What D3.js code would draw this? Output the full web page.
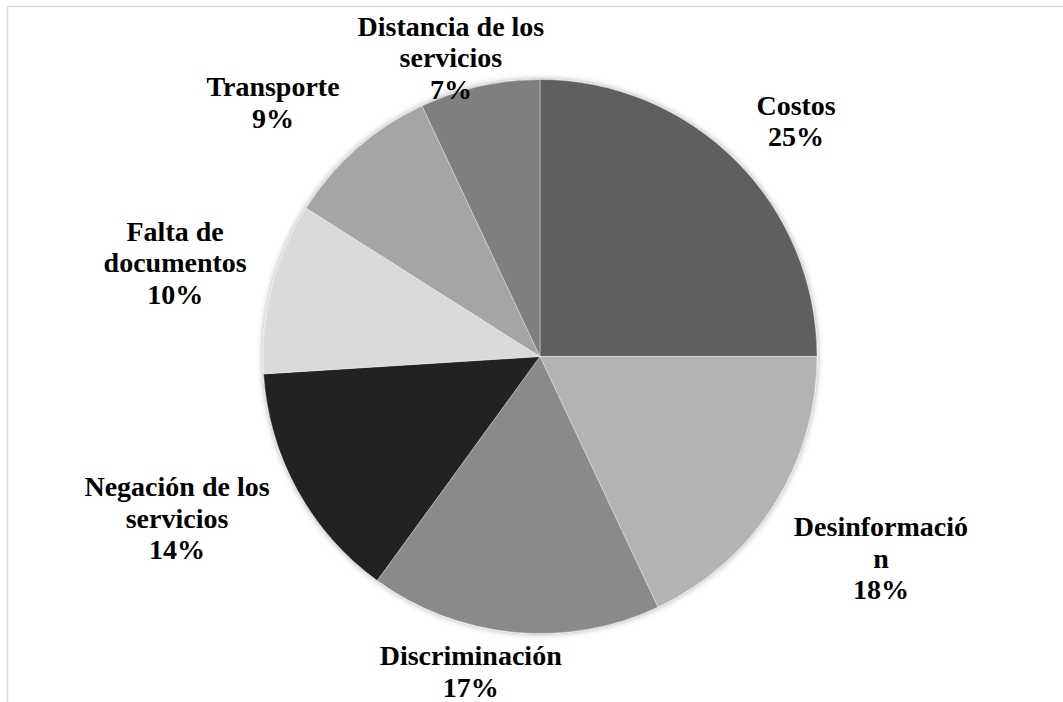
<!DOCTYPE html>
<html>
<head>
<meta charset="utf-8">
<script src="https://cdn.jsdelivr.net/npm/d3@7.9.0/dist/d3.min.js"></script>
<style>
  html, body { margin: 0; padding: 0; background: #fff; }
  svg { display: block; }
  .label { font-family: "Liberation Serif", serif; font-weight: bold; font-size: 28px; fill: #000; }
</style>
</head>
<body>
<div id="chart"></div>
<script>
// data
const categories = ["Costos", "Desinformación", "Discriminación", "Negación de los servicios",
  "Falta de documentos", "Transporte", "Distancia de los servicios"];
const values = [25, 18, 17, 14, 10, 9, 7];
// label text as wrapped in the original
const labelLines = ["Costos", "Desinformació\nn", "Discriminación", "Negación de los\nservicios",
  "Falta de\ndocumentos", "Transporte", "Distancia de los\nservicios"];

const width = 1063, height = 702;
const cx = 540, cy = 356.5, radius = 277;
const lineH = 31.5, capH = 19;

// label placement: angle shift (deg) from slice middle, distance as a factor of radius
const labelPlace = [[2.4, 1.256], [-1.8, 1.43], [7.0, 1.165], [4.75, 1.435],
  [0, 1.36], [-5.05, 1.33], [-4.0, 1.126]];

const color = d3.scaleOrdinal()
  .domain(categories)
  .range(["#5f5f5f", "#b3b3b3", "#8a8a8a", "#222222", "#dadada", "#a5a5a5", "#7f7f7f"]);

const svg = d3.select("#chart").append("svg")
  .attr("width", width)
  .attr("height", height);

// chart frame (cropped at right / bottom)
svg.append("rect")
  .attr("x", 7.5).attr("y", 6.5)
  .attr("width", width + 20).attr("height", height + 20)
  .attr("fill", "none")
  .attr("stroke", "#d9d9d9")
  .attr("stroke-width", 1.5);

const defs = svg.append("defs");
const shadow = defs.append("filter")
  .attr("id", "soft")
  .attr("x", "-10%").attr("y", "-10%")
  .attr("width", "120%").attr("height", "120%");
shadow.append("feDropShadow")
  .attr("dx", 0).attr("dy", 0)
  .attr("stdDeviation", 3)
  .attr("flood-color", "#000")
  .attr("flood-opacity", 0.35);

const data = categories.map((c, i) => ({ name: c, value: values[i], label: labelLines[i] }));
const total = d3.sum(values);

const pie = d3.pie().value(d => d.value).sort(null);
const arc = d3.arc().innerRadius(0).outerRadius(radius);
const arcs = pie(data);

const g = svg.append("g").attr("transform", `translate(${cx},${cy})`);

g.append("g")
  .attr("filter", "url(#soft)")
  .selectAll("path")
  .data(arcs)
  .join("path")
    .attr("d", arc)
    .attr("fill", d => color(d.data.name))
    .attr("stroke", "#fff")
    .attr("stroke-opacity", 0.5)
    .attr("stroke-width", 0.75);

// labels
const pct = d3.format(".0%");
arcs.forEach((d, i) => {
  const [shift, k] = labelPlace[i];
  const a = (d.startAngle + d.endAngle) / 2 + shift * Math.PI / 180;
  const lx = Math.sin(a) * radius * k;
  const ly = -Math.cos(a) * radius * k;
  const lines = d.data.label.split("\n").concat(pct(d.data.value / total));
  const y0 = ly - ((lines.length - 1) * lineH + capH) / 2 + capH;
  const t = g.append("text")
    .attr("class", "label")
    .attr("text-anchor", "middle");
  lines.forEach((s, j) => {
    t.append("tspan")
      .attr("x", lx)
      .attr("y", y0 + j * lineH)
      .text(s);
  });
});
</script>
</body>
</html>
